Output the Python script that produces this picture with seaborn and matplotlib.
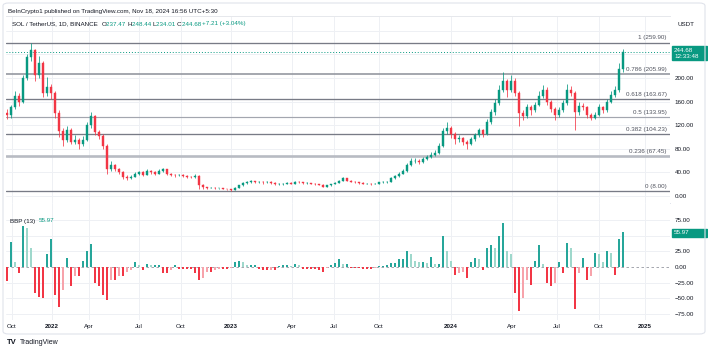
import numpy as np
import pandas as pd
import matplotlib
matplotlib.use('Agg')
import matplotlib.pyplot as plt
import seaborn as sns
from matplotlib.patches import Rectangle, FancyBboxPatch
from matplotlib.transforms import blended_transform_factory
from matplotlib.offsetbox import TextArea, HPacker, AnchoredOffsetbox

# SOL/USDT, one candle per ~week
first_open = 140
close = [137, 150, 170, 160, 200, 235, 248, 205, 225, 175,
         185, 175, 140, 110, 95, 112, 92, 95, 88, 95,
         120, 135, 108, 102, 85, 45, 52, 45, 40, 33,
         31, 33, 38, 40, 36, 42, 40, 38, 43, 45,
         38, 36, 35, 36, 34, 33, 32, 34, 18, 15,
         14, 14, 13, 13, 12, 11, 10, 14, 18, 22,
         23, 25, 24, 24, 23, 24, 22, 20, 20, 21,
         22, 21, 24, 23, 22, 22, 21, 20, 19, 16,
         18, 20, 22, 26, 30, 26, 24, 23, 22, 21,
         21, 20, 21, 23, 24, 24, 30, 34, 38, 42,
         52, 60, 60, 58, 63, 66, 70, 73, 85, 110,
         115, 105, 96, 98, 92, 88, 96, 103, 112, 105,
         125, 142, 158, 180, 195, 180, 195, 175, 140, 135,
         150, 145, 155, 170, 180, 160, 148, 138, 145, 158,
         180, 175, 142, 152, 150, 138, 133, 138, 150, 145,
         160, 172, 180, 215, 244.68]
high = [148, 155, 178, 175, 205, 240, 260, 250, 238, 228,
        202, 190, 178, 145, 115, 118, 115, 104, 98, 102,
        125, 143, 137, 112, 105, 88, 60, 55, 47, 42,
        36, 36, 41, 43, 42, 45, 44, 42, 46, 48,
        46, 39, 37, 38, 37, 35, 34, 38, 36, 20,
        16, 15, 14.5, 14, 13.5, 12.5, 11.5, 15, 19, 24,
        25, 27, 26, 25.5, 25, 26, 25, 23, 21.5, 22.5,
        23.5, 23, 25, 25, 24, 23.5, 22.5, 22, 21, 20,
        19, 21, 23, 27, 32, 31, 27, 25, 24, 23,
        22, 21.5, 22, 24, 25, 26, 32, 36, 40, 45,
        56, 65, 64, 62, 66, 70, 74, 78, 90, 116,
        125, 118, 108, 103, 100, 95, 100, 107, 116, 114,
        130, 147, 165, 188, 210, 198, 205, 200, 178, 145,
        156, 154, 160, 178, 188, 184, 162, 150, 150, 162,
        190, 186, 178, 160, 157, 153, 141, 143, 156, 153,
        165, 178, 186, 225, 248.44]
low = [130, 133, 147, 152, 158, 196, 228, 195, 200, 168,
       170, 165, 132, 100, 84, 92, 88, 88, 80, 85,
       93, 116, 103, 96, 80, 38, 42, 42, 37, 28,
       27, 29, 32, 36, 34, 35, 38, 36, 37, 41,
       36, 34, 33, 34, 32, 31, 30, 31, 12, 12,
       12, 13, 12, 12, 11, 10, 8, 9.5, 13, 17,
       20, 22, 22, 22.5, 21, 22, 21, 18, 18.5, 19,
       20, 19.5, 20.5, 21.5, 21, 20.5, 19.5, 19, 18, 14.5,
       15, 17.5, 19.5, 21.5, 25, 25, 23, 22, 21, 20,
       19.5, 18.5, 19.5, 20.5, 22, 22.5, 23.5, 29, 33, 37,
       41, 50, 56, 54, 56, 61, 64, 68, 72, 83,
       105, 98, 88, 92, 87, 80, 86, 94, 100, 100,
       103, 122, 138, 155, 176, 168, 176, 170, 118, 128,
       132, 138, 142, 152, 166, 155, 142, 128, 134, 142,
       155, 170, 112, 138, 145, 133, 128, 130, 136, 140,
       142, 157, 168, 176, 210]

# Bull Bear Power (13)
bbp = [-22, 40, 8, -10, 66, 63, 30, -42, -48, -50,
       20, 45, -45, -64, -37, 15, -30, -15, -15, 10,
       25, 37, -25, -30, -45, -53, -20, -20, -15, -15,
       -8, -5, 8, 3, -5, 5, 3, 3, 3, -10,
       -10, -5, 3, -3, -3, -3, -3, -10, -21, -18,
       -8, -8, -5, -3, -3, -3, -2, 8, 10, 8,
       3, 3, 3, -3, -5, -5, -4, -5, 2, 3,
       3, 2, 5, 4, -3, -3, -3, -3, -4, -8,
       -2, 3, 6, 12, 5, 5, -2, -2, -2, -3,
       -3, -3, -1, 2, 2, 3, 7, 7, 12, 12,
       25, 20, 10, 8, 8, 6, 16, 5, 5, 50,
       25, 10, -12, -10, -8, -18, 8, 15, 12, -5,
       30, 35, 30, 50, 70, 25, 20, -41, -70, -50,
       -20, -28, 10, 35, 5, -25, -30, -25, 8, -10,
       38, 30, -67, -10, 15, -20, -15, 22, 20, 8,
       25, 22, -12, 45, 55.97]

tick_labels = ['Oct', '2022', 'Apr', 'Jul', 'Oct', '2023', 'Apr', 'Jul', 'Oct',
               '2024', 'Apr', 'Jul', 'Oct', '2025']
tick_bars = [1.25, 11.25, 20.5, 33, 43.5, 56, 71.25, 81.75, 93, 111, 126.25,
             137.5, 148, 159.5]

fib_ratios = ['1', '0.786', '0.618', '0.5', '0.382', '0.236', '0']
fib_prices = [259.90, 205.99, 163.67, 133.95, 104.23, 67.45, 8.00]

last_price = 244.68
last_bbp = 55.97
header_ohlc = [('O', '237.47'), ('H', '248.44'), ('L', '234.01'), ('C', '244.68')]
header_chg = '+7.21 (+3.04%)'

sns.set_theme(style='white')
plt.rcParams['font.family'] = ['Liberation Sans', 'DejaVu Sans']

UP, DOWN = '#089981', '#f23645'
TXT = '#131722'
GRID = '#eef0f4'
FS = 4.5

fig = plt.figure(figsize=(7.08, 3.54), dpi=100)
W, H = 708, 354
ax = fig.add_axes([6 / W, 1 - 203 / H, 664 / W, 187 / H])
ax2 = fig.add_axes([6 / W, 1 - 320 / H, 664 / W, 117 / H])

idx = np.arange(len(close))
c = np.array(close, dtype=float)
o = np.array([first_open] + close[:-1], dtype=float)
colors = [UP if cc >= oo else DOWN for oo, cc in zip(o, c)]

# grid
for a in (ax, ax2):
    for tb in tick_bars:
        a.axvline(tb, color=GRID, lw=0.7, zorder=0)
for p in range(0, 281, 40):
    ax.axhline(p, color=GRID, lw=0.7, zorder=0)
for v in (75, 50, 25, -25, -50, -75):
    ax2.axhline(v, color=GRID, lw=0.7, zorder=0)

# fib retracement
fib_style = {'1': ('#787b86', 0.95), '0.786': ('#9598a1', 1.2), '0.618': ('#787b86', 0.95),
             '0.5': ('#a3a6af', 0.85), '0.382': ('#787b86', 0.95), '0.236': ('#b8bbc3', 1.9),
             '0': ('#787b86', 0.95)}
for r, p in zip(fib_ratios, fib_prices):
    col, lw = fib_style[r]
    ax.axhline(p, color=col, lw=lw, zorder=1)
    ax.annotate(f'{r} ({p:.2f})', xy=(0.995, p), xycoords=('axes fraction', 'data'),
                xytext=(0, 1.6), textcoords='offset points', ha='right', va='bottom',
                fontsize=FS, color='#50535e', zorder=5)

ax.axhline(last_price, color=UP, lw=0.7, ls=(0, (1, 2)), zorder=1)

# candles
ax.vlines(idx, low, high, colors=colors, lw=0.55, zorder=3)
ax.bar(idx, np.abs(c - o), bottom=np.minimum(o, c), width=0.55, color=colors,
       edgecolor=colors, linewidth=0.3, zorder=4)

ax.set_xlim(-0.25, 165.75)
ax.set_ylim(-11.9, 305.1)
ax.yaxis.tick_right()
price_ticks = list(range(0, 201, 40))
ax.set_yticks(price_ticks)
ax.set_yticklabels([f'{v:.2f}' for v in price_ticks])
ax.set_xticks([])
ax.tick_params(axis='y', length=0, pad=3.5, labelsize=FS, labelcolor=TXT)
for s in ('left', 'right'):
    ax.spines[s].set_visible(False)
ax.spines['top'].set_color('#e6e8ec')
ax.spines['bottom'].set_color('#e0e3eb')
for s in ('top', 'bottom'):
    ax.spines[s].set_linewidth(0.7)

# BBP histogram
kinds = []
prev = 0
for v in bbp:
    if v >= 0:
        kinds.append('bull_up' if v >= prev else 'bull_dn')
    else:
        kinds.append('bear_dn' if v <= prev else 'bear_up')
    prev = v
df = pd.DataFrame({'bar': idx, 'bbp': bbp, 'kind': kinds})
pal = {'bull_up': '#26a69a', 'bull_dn': '#9fd8cc', 'bear_dn': '#f23645', 'bear_up': '#f7a3ab'}
ax2.axhline(0, color='#9598a1', lw=0.6, ls=(0, (3, 3)), zorder=1)
sns.barplot(data=df, x='bar', y='bbp', hue='kind', palette=pal, native_scale=True,
            dodge=False, width=0.7, errorbar=None, legend=False, saturation=1,
            linewidth=0, ax=ax2, zorder=3)

ax2.set_xlim(-0.25, 165.75)
ax2.set_ylim(-84.5, 102.1)
ax2.set_xlabel('')
ax2.set_ylabel('')
ax2.yaxis.tick_right()
bt = [75, 25, 0, -25, -50, -75]
ax2.set_yticks(bt)
ax2.set_yticklabels([f'{v:.2f}'.replace('-', '\u2212') for v in bt])
ax2.set_xticks(tick_bars)
ax2.set_xticklabels(tick_labels)
ax2.tick_params(axis='y', length=0, pad=3.5, labelsize=FS, labelcolor=TXT)
ax2.tick_params(axis='x', length=0, pad=3.2, labelsize=FS, labelcolor=TXT)
for t in ax2.get_xticklabels():
    if t.get_text().isdigit():
        t.set_fontweight('bold')
for s in ('left', 'right', 'top', 'bottom'):
    ax2.spines[s].set_visible(False)

# value boxes on the price scales
fx = blended_transform_factory(fig.transFigure, ax.transData)
ax.add_patch(Rectangle((672 / W, last_price - 14.2), 35 / W, 23.7, transform=fx,
                       color=UP, clip_on=False, zorder=6))
ax.text(674 / W, last_price + 1.8, f'{last_price:.2f}', transform=fx, color='white',
        fontsize=FS, va='center', ha='left', zorder=7, clip_on=False)
ax.text(674 / W, last_price - 8.4, '12:33:48', transform=fx, color='white',
        fontsize=FS, va='center', ha='left', zorder=7, clip_on=False)
fx2 = blended_transform_factory(fig.transFigure, ax2.transData)
ax2.add_patch(Rectangle((672 / W, last_bbp - 8.2), 35 / W, 12.8, transform=fx2,
                        color=UP, clip_on=False, zorder=6))
ax2.text(674 / W, last_bbp - 1.7, f'{last_bbp:.2f}', transform=fx2, color='white',
         fontsize=FS, va='center', ha='left', zorder=7, clip_on=False)

# header texts
fig.text(8 / W, 1 - 11 / H, 'BeInCrypto1 published on TradingView.com, Nov 18, 2024 16:56 UTC+5:30',
         fontsize=FS, color=TXT, va='center')
parts = [('SOL / TetherUS, 1D, BINANCE  ', TXT)]
for k, v in header_ohlc:
    parts += [(k, TXT), (v + ' ', UP)]
parts.append((header_chg, UP))
pack = HPacker(children=[TextArea(t, textprops=dict(color=col, fontsize=FS)) for t, col in parts],
               align='baseline', pad=0, sep=0)
anch = AnchoredOffsetbox(loc='center left', child=pack, pad=0, borderpad=0, frameon=False,
                         bbox_to_anchor=(12 / W, 1 - 24 / H), bbox_transform=fig.transFigure)
fig.add_artist(anch)
fig.text(686 / W, 1 - 25 / H, 'USDT', fontsize=FS, color=TXT, ha='center', va='center')

pack2 = HPacker(children=[TextArea('BBP (13)  ', textprops=dict(color=TXT, fontsize=FS)),
                          TextArea(f'{last_bbp:.2f}', textprops=dict(color=UP, fontsize=FS))],
                align='baseline', pad=0, sep=0)
fig.add_artist(AnchoredOffsetbox(loc='center left', child=pack2, pad=0, borderpad=0, frameon=False,
                                 bbox_to_anchor=(10 / W, 1 - 221 / H), bbox_transform=fig.transFigure))

# frame + footer
fig.add_artist(FancyBboxPatch((3 / W, 1 - 334 / H), 702 / W, 331 / H,
                              boxstyle='round,pad=0,rounding_size=0.008',
                              transform=fig.transFigure, fc='none', ec='#e0e3eb', lw=0.8))
fig.text(7 / W, 1 - 343 / H, 'TV', fontsize=5.5, fontweight='heavy', color=TXT, va='center')
fig.text(20 / W, 1 - 343 / H, 'TradingView', fontsize=5, color=TXT, va='center')

fig.savefig('out.png', dpi=100)
